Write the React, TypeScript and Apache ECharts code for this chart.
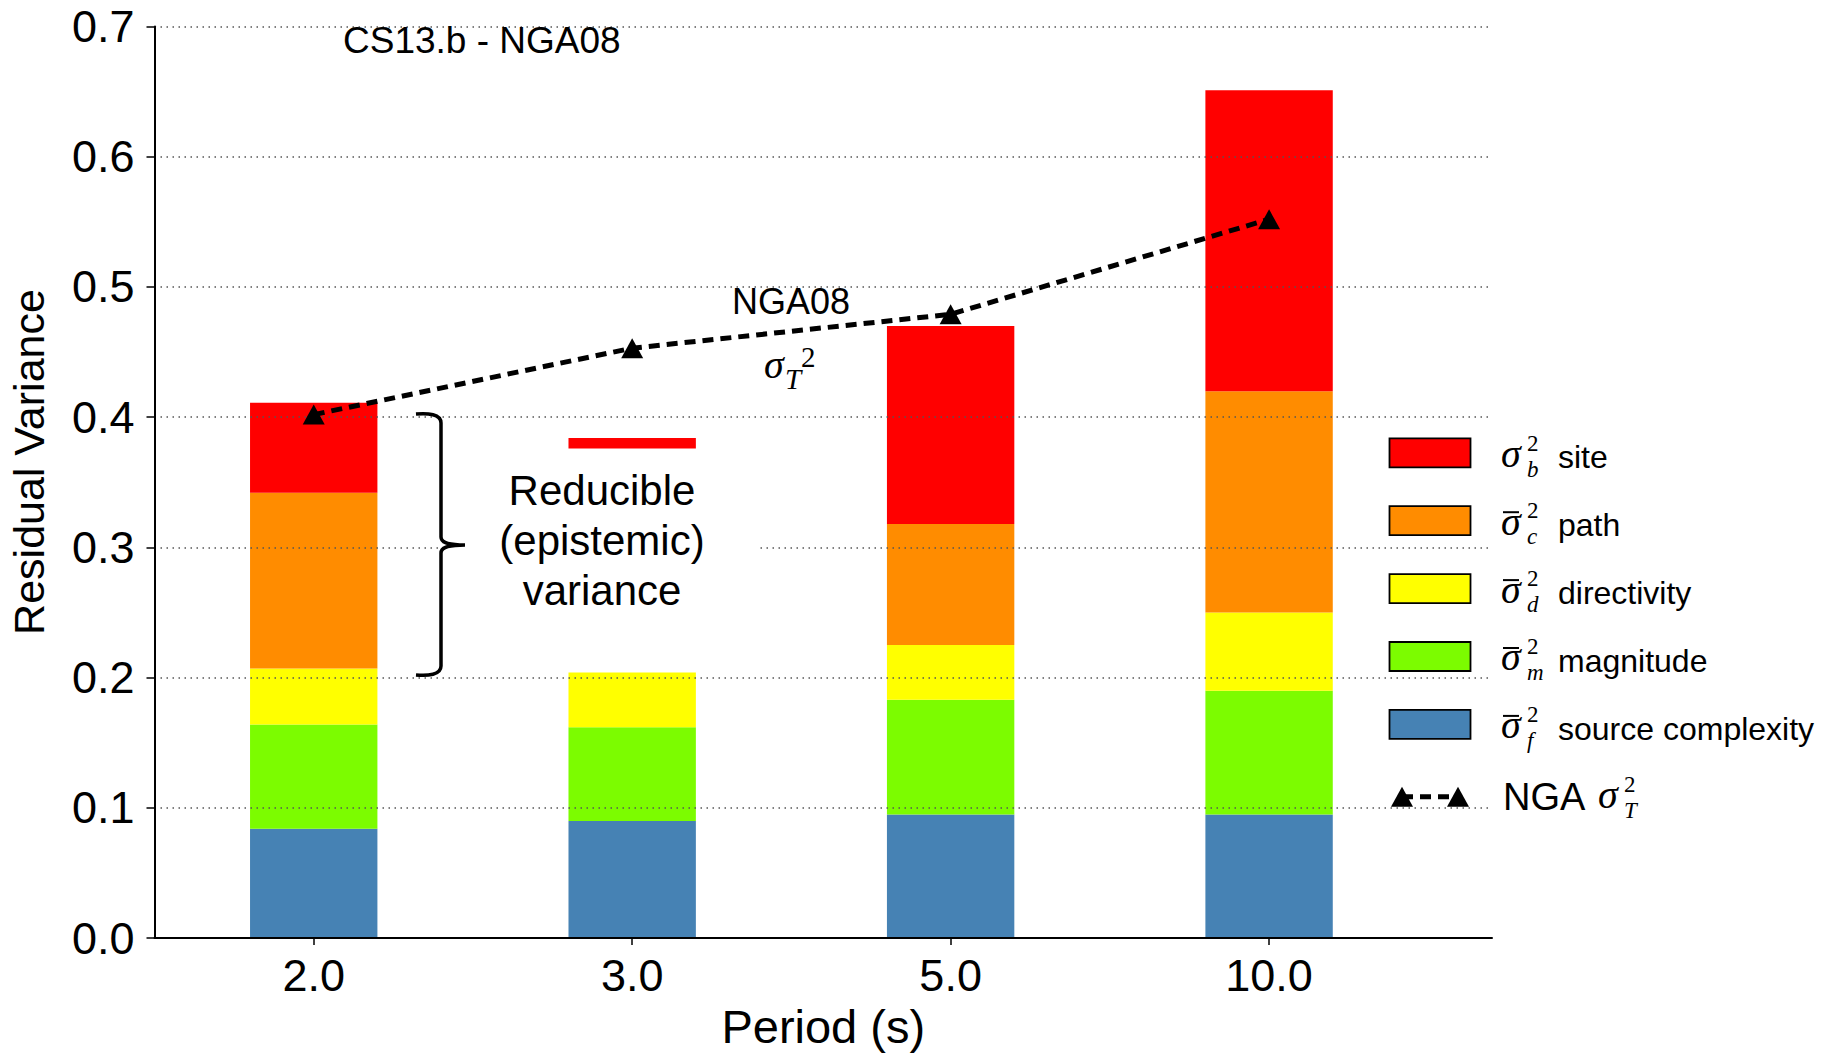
import React, { useEffect, useRef } from "react";
import * as echarts from "echarts";

// ---- data ----
const periods = ["2.0", "3.0", "5.0", "10.0"];
const sourceComplexity = [0.084, 0.09, 0.095, 0.095];
const magnitude = [0.08, 0.072, 0.088, 0.095];
const directivity = [0.043, 0.042, 0.042, 0.06];
const pathTerm = [0.135, 0, 0.093, 0.17];
const siteOffset = [0, 0.172, 0, 0]; // empty gap below the floating site bar at 3.0 s
const site = [0.069, 0.008, 0.152, 0.231];
const ngaTotal = [0.402, 0.453, 0.479, 0.552];
const yTicks = [0, 0.1, 0.2, 0.3, 0.4, 0.5, 0.6, 0.7];

const legendRows = [
  { sub: "b", bar: false, label: "site", color: "#FF0000" },
  { sub: "c", bar: true, label: "path", color: "#FF8C00" },
  { sub: "d", bar: true, label: "directivity", color: "#FFFF00" },
  { sub: "m", bar: true, label: "magnitude", color: "#7CFC00" },
  { sub: "f", bar: true, label: "source complexity", color: "#4682B4" },
];

const SANS = "'Liberation Sans', Arial, Helvetica, sans-serif";
const SERIF = "'Liberation Serif', 'Times New Roman', serif";
const BAR_FRAC = 0.4;

const BRACE_D =
  "M0,0 C12,-1 25,0 25,9 L25,123 C25,128 30,131 49,131 C30,131 25,134 25,139 L25,252 C25,261 12,262 0,261";

function txt(
  text: string,
  x: number,
  baseline: number,
  fs: number,
  opts: any = {}
) {
  const family = opts.family || SANS;
  const k = family === SERIF ? 0.34 : 0.35;
  return {
    type: "text",
    x,
    y: baseline - k * fs,
    z: opts.z ?? 50,
    rotation: opts.rotation || 0,
    style: {
      text,
      fontSize: fs,
      fontFamily: family,
      fontStyle: opts.italic ? "italic" : "normal",
      fill: "#000",
      align: opts.align || "left",
      verticalAlign: "middle",
      ...(opts.style || {}),
    },
  };
}

// superscript "2" stacked over an italic subscript, as one text
function supSub(sub: string, x: number, cy: number) {
  return {
    type: "text",
    x,
    y: cy,
    z: 50,
    style: {
      text: "{r|2}\n{i|" + sub + "}",
      align: "left",
      verticalAlign: "middle",
      rich: {
        r: { fontSize: 23, fontFamily: SERIF, lineHeight: 26, fill: "#000" },
        i: { fontSize: 23, fontFamily: SERIF, fontStyle: "italic", lineHeight: 26, fill: "#000" },
      },
    },
  };
}

export default function App() {
  const ref = useRef<HTMLDivElement>(null);

  useEffect(() => {
    if (!ref.current) return;
    try {
      echarts.graphic.registerShape(
        "brace",
        echarts.graphic.extendPath(BRACE_D, {}) as any
      );
    } catch (e) {}
    const chart = echarts.init(ref.current, null, { renderer: "svg" });

    // stacked layers, bottom to top
    const layers = [
      { name: "source complexity", values: sourceComplexity, color: "#4682B4", draw: true },
      { name: "magnitude", values: magnitude, color: "#7CFC00", draw: true },
      { name: "directivity", values: directivity, color: "#FFFF00", draw: true },
      { name: "path", values: pathTerm, color: "#FF8C00", draw: true },
      { name: "offset", values: siteOffset, color: "none", draw: false },
      { name: "site", values: site, color: "#FF0000", draw: true },
    ];
    const base = periods.map(() => 0);
    const barSeries: any[] = [];
    layers.forEach((L) => {
      const data = L.values.map((v, i) => [i, base[i], base[i] + v]);
      L.values.forEach((v, i) => (base[i] += v));
      if (!L.draw) return;
      barSeries.push({
        name: L.name,
        type: "custom",
        z: 2,
        silent: true,
        encode: { x: 0, y: [1, 2] },
        data,
        renderItem: (params: any, api: any) => {
          const x = api.value(0);
          const p0 = api.coord([x, api.value(1)]);
          const p1 = api.coord([x, api.value(2)]);
          const w = api.size([BAR_FRAC, 0])[0];
          const h = p0[1] - p1[1];
          if (h <= 0) return null;
          return {
            type: "rect",
            shape: { x: p0[0] - w / 2, y: p1[1], width: w, height: h },
            style: { fill: L.color },
          };
        },
      });
    });

    const graphics: any[] = [];
    // title & annotations
    graphics.push(txt("CS13.b - NGA08", 343, 53.5, 37));
    graphics.push(
      txt("Residual Variance", 29, 462 + 0.35 * 43, 43, {
        align: "center",
        rotation: Math.PI / 2,
      })
    );
    graphics.push(txt("NGA08", 791, 314, 36, { align: "center" }));
    graphics.push(txt("σ", 764, 378, 40, { family: SERIF, italic: true }));
    graphics.push(txt("T", 785, 389, 29, { family: SERIF, italic: true }));
    graphics.push(txt("2", 801, 367, 29, { family: SERIF }));
    graphics.push({
      type: "text",
      x: 602,
      y: 540,
      z: 100,
      style: {
        text: "Reducible\n(epistemic)\nvariance",
        fontSize: 42,
        fontFamily: SANS,
        fill: "#000",
        align: "center",
        verticalAlign: "middle",
        lineHeight: 50,
        backgroundColor: "#fff",
        padding: [12, 52],
      },
    });
    graphics.push({
      type: "brace",
      x: 416,
      y: 414,
      z: 101,
      style: { stroke: "#000", fill: "none", lineWidth: 3.5 },
    });

    // legend
    legendRows.forEach((r, i) => {
      const cy = 452.8 + i * 67.9;
      graphics.push({
        type: "rect",
        z: 50,
        shape: { x: 1389.5, y: cy - 14.5, width: 81, height: 29 },
        style: { fill: r.color, stroke: "#000", lineWidth: 1.8 },
      });
      graphics.push(txt("σ", 1501, cy + 14, 40, { family: SERIF, italic: true }));
      if (r.bar) {
        graphics.push({
          type: "line",
          z: 50,
          shape: { x1: 1503, y1: cy - 8.5, x2: 1519, y2: cy - 8.5 },
          style: { stroke: "#000", lineWidth: 2 },
        });
      }
      graphics.push(supSub(r.sub, 1527, cy + 3.2));
      graphics.push(txt(r.label, 1558, cy + 15.5, 32));
    });
    {
      const cy = 796.7;
      graphics.push({
        type: "polyline",
        z: 50,
        shape: { points: [[1402, cy], [1458, cy]] },
        style: { stroke: "#000", lineWidth: 5, lineDash: [11, 7], fill: "none" },
      });
      [1402, 1458].forEach((cx) =>
        graphics.push({
          type: "polygon",
          z: 51,
          shape: {
            points: [
              [cx - 11, cy + 10],
              [cx + 11, cy + 10],
              [cx, cy - 10],
            ],
          },
          style: { fill: "#000" },
        })
      );
      graphics.push(txt("NGA", 1503, 810, 38));
      graphics.push(txt("σ", 1598, 808, 40, { family: SERIF, italic: true }));
      graphics.push(supSub("T", 1624, 797));
    }

    chart.setOption({
      animation: false,
      backgroundColor: "#fff",
      grid: { left: 154.5, right: 343, top: 26.5, bottom: 108 },
      xAxis: {
        type: "value",
        min: -0.5,
        max: 3.7,
        z: 3,
        axisLine: { show: true, onZero: false, lineStyle: { color: "#000", width: 2 } },
        axisTick: {
          show: true,
          customValues: [0, 1, 2, 3],
          length: 7,
          lineStyle: { color: "#000", width: 1.5 },
        },
        axisLabel: {
          customValues: [0, 1, 2, 3],
          formatter: (v: number) => periods[Math.round(v)] ?? "",
          fontSize: 45,
          fontFamily: SANS,
          color: "#000",
          margin: 15,
        },
        splitLine: { show: false },
        name: "Period (s)",
        nameLocation: "middle",
        nameGap: 56,
        nameTextStyle: { fontSize: 47, fontFamily: SANS, color: "#000" },
      },
      yAxis: {
        type: "value",
        min: 0,
        max: 0.7,
        interval: 0.1,
        z: 3,
        axisLine: { show: true, onZero: false, lineStyle: { color: "#000", width: 2 } },
        axisTick: { show: true, length: 8, lineStyle: { color: "#000", width: 1.5 } },
        axisLabel: {
          formatter: (v: number) => {
            const t = yTicks.find((y) => Math.abs(y - v) < 1e-6);
            return (t ?? v).toFixed(1);
          },
          fontSize: 45,
          fontFamily: SANS,
          color: "#000",
          margin: 20,
        },
        splitLine: {
          show: true,
          lineStyle: { color: "#555", width: 1.5, type: [1.5, 4.5] },
        },
      },
      series: [
        ...barSeries,
        {
          name: "NGA",
          type: "line",
          z: 4,
          data: ngaTotal.map((v, i) => [i, v]),
          symbol: "triangle",
          symbolSize: [22, 20],
          itemStyle: { color: "#000" },
          lineStyle: { color: "#000", width: 5, type: [11, 7] },
          emphasis: { disabled: true },
        },
      ],
      graphic: { elements: graphics },
    });

    return () => chart.dispose();
  }, []);

  return (
    <div
      ref={ref}
      style={{ position: "fixed", left: 0, top: 0, width: 1835, height: 1055, background: "#fff" }}
    />
  );
}
